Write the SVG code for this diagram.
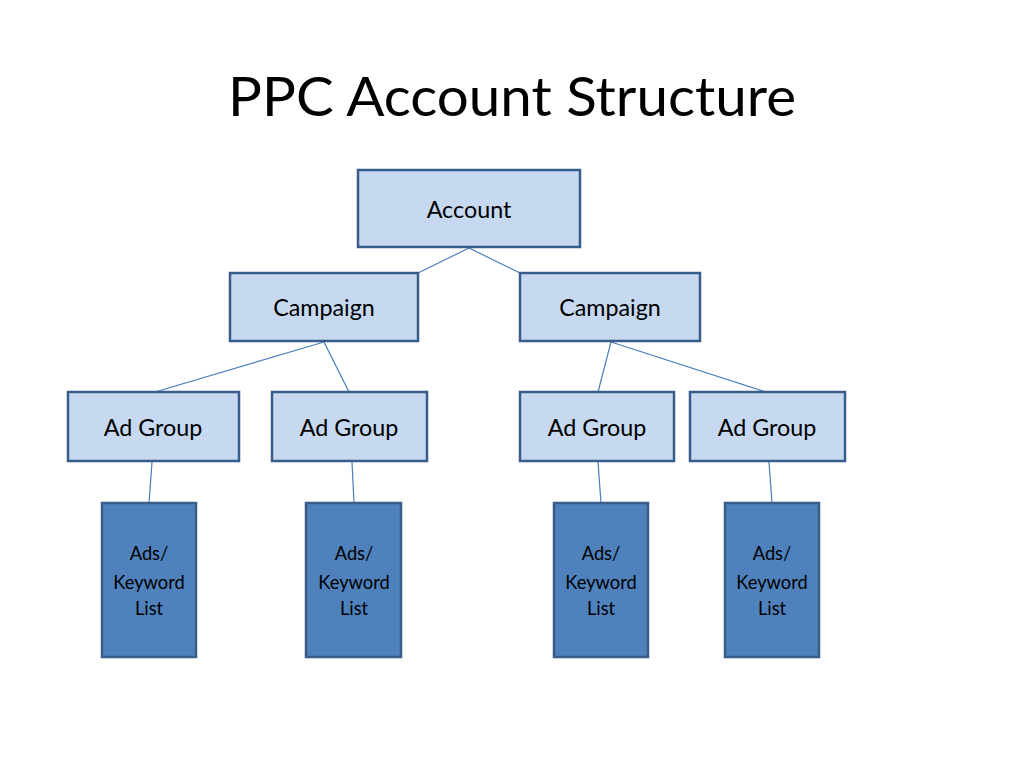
<svg xmlns="http://www.w3.org/2000/svg" width="1024" height="768" viewBox="0 0 1024 768">
<style>
.lt{fill:#C6D9F1;stroke:#385D8A;stroke-width:2.5}
.dk{fill:#4F81BD;stroke:#385D8A;stroke-width:2.5}
.t{font-family:Lato,"Open Sans","Liberation Sans",sans-serif;fill:#000;text-anchor:middle}
.m{font-size:23.3px}
.s{font-size:18.3px}
.c{stroke:#4A7EBB;stroke-width:1.2;fill:none}
</style>
<rect width="1024" height="768" fill="#fff"/>
<text class="t" x="512" y="116" font-size="54" textLength="568" lengthAdjust="spacingAndGlyphs">PPC Account Structure</text>
<g id="connectors">
<line class="c" x1="469" y1="248" x2="418" y2="273"/>
<line class="c" x1="469" y1="248" x2="520" y2="273"/>
<line class="c" x1="324" y1="342" x2="155" y2="392"/>
<line class="c" x1="324" y1="342" x2="349" y2="392"/>
<line class="c" x1="611" y1="342" x2="598" y2="392"/>
<line class="c" x1="611" y1="342" x2="766" y2="392"/>
<line class="c" x1="152" y1="462" x2="149" y2="503"/>
<line class="c" x1="352" y1="462" x2="354" y2="503"/>
<line class="c" x1="598" y1="462" x2="601" y2="503"/>
<line class="c" x1="769" y1="462" x2="772" y2="503"/>
</g>
<g id="account"><rect class="lt" x="358" y="170" width="222" height="77"/><text class="t m" x="469" y="218">Account</text></g>
<g id="campaign1"><rect class="lt" x="230" y="273" width="188" height="68"/><text class="t m" x="324" y="316">Campaign</text></g>
<g id="campaign2"><rect class="lt" x="520" y="273" width="180" height="68"/><text class="t m" x="610" y="316">Campaign</text></g>
<g id="adgroup1"><rect class="lt" x="68" y="392" width="171" height="69"/><text class="t m" x="153" y="436">Ad Group</text></g>
<g id="adgroup2"><rect class="lt" x="272" y="392" width="155" height="69"/><text class="t m" x="349" y="436">Ad Group</text></g>
<g id="adgroup3"><rect class="lt" x="520" y="392" width="154" height="69"/><text class="t m" x="597" y="436">Ad Group</text></g>
<g id="adgroup4"><rect class="lt" x="690" y="392" width="155" height="69"/><text class="t m" x="767" y="436">Ad Group</text></g>
<g id="ads1"><rect class="dk" x="102" y="503" width="94" height="154"/><text class="t s" x="149"><tspan x="149" y="560">Ads/</tspan><tspan x="149" y="589">Keyword</tspan><tspan x="149" y="615">List</tspan></text></g>
<g id="ads2"><rect class="dk" x="306" y="503" width="95" height="154"/><text class="t s" x="354"><tspan x="354" y="560">Ads/</tspan><tspan x="354" y="589">Keyword</tspan><tspan x="354" y="615">List</tspan></text></g>
<g id="ads3"><rect class="dk" x="554" y="503" width="94" height="154"/><text class="t s" x="601"><tspan x="601" y="560">Ads/</tspan><tspan x="601" y="589">Keyword</tspan><tspan x="601" y="615">List</tspan></text></g>
<g id="ads4"><rect class="dk" x="725" y="503" width="94" height="154"/><text class="t s" x="772"><tspan x="772" y="560">Ads/</tspan><tspan x="772" y="589">Keyword</tspan><tspan x="772" y="615">List</tspan></text></g>
</svg>
